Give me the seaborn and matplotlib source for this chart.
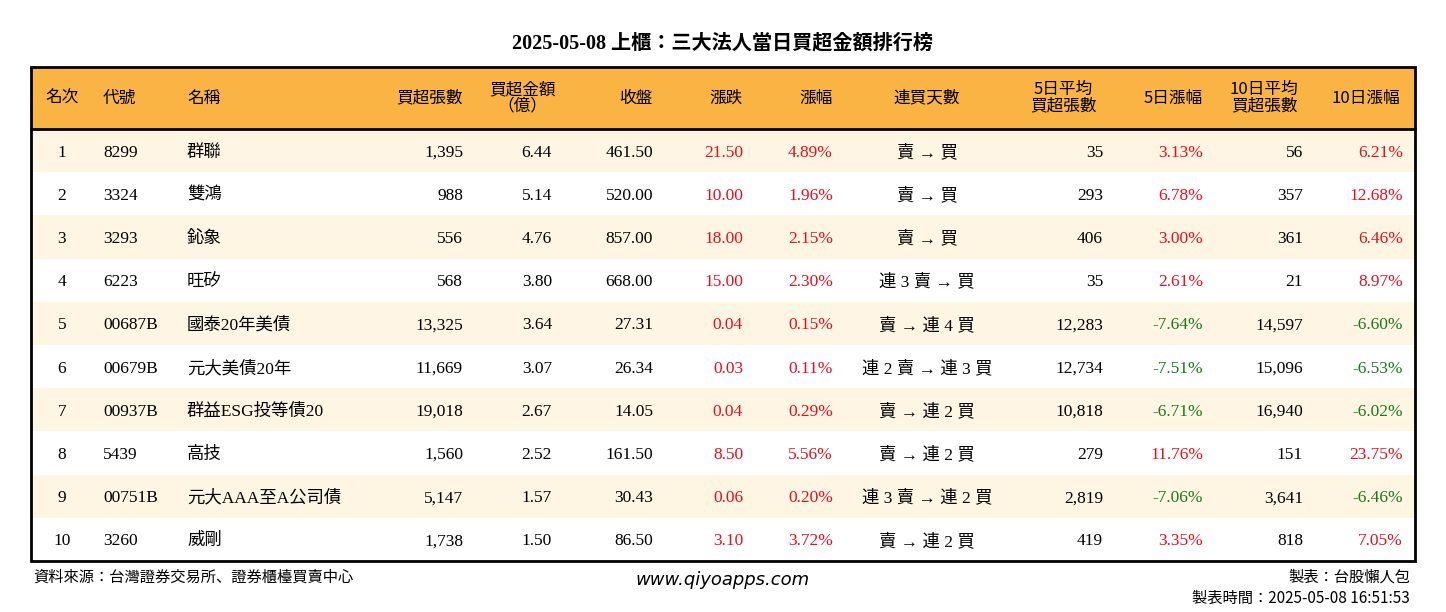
import matplotlib
matplotlib.use("Agg")
import matplotlib.pyplot as plt
import seaborn as sns
from matplotlib.patches import Rectangle
from matplotlib import font_manager

sns.set_theme(style="white")

ranks = [1, 2, 3, 4, 5, 6, 7, 8, 9, 10]
codes = ["8299", "3324", "3293", "6223", "00687B", "00679B", "00937B", "5439", "00751B", "3260"]
names = ["群聯", "雙鴻", "鈊象", "旺矽", "國泰20年美債", "元大美債20年", "群益ESG投等債20", "高技", "元大AAA至A公司債", "威剛"]
buy_vol = [1395, 988, 556, 568, 13325, 11669, 19018, 1560, 5147, 1738]
buy_amt = [6.44, 5.14, 4.76, 3.80, 3.64, 3.07, 2.67, 2.52, 1.57, 1.50]
close = [461.50, 520.00, 857.00, 668.00, 27.31, 26.34, 14.05, 161.50, 30.43, 86.50]
change = [21.50, 10.00, 18.00, 15.00, 0.04, 0.03, 0.04, 8.50, 0.06, 3.10]
pct = [4.89, 1.96, 2.15, 2.30, 0.15, 0.11, 0.29, 5.56, 0.20, 3.72]
streak = ["賣 → 買", "賣 → 買", "賣 → 買", "連 3 賣 → 買", "賣 → 連 4 買", "連 2 賣 → 連 3 買",
          "賣 → 連 2 買", "賣 → 連 2 買", "連 3 賣 → 連 2 買", "賣 → 連 2 買"]
avg5 = [35, 293, 406, 35, 12283, 12734, 10818, 279, 2819, 419]
pct5 = [3.13, 6.78, 3.00, 2.61, -7.64, -7.51, -6.71, 11.76, -7.06, 3.35]
avg10 = [56, 357, 361, 21, 14597, 15096, 16940, 151, 3641, 818]
pct10 = [6.21, 12.68, 6.46, 8.97, -6.60, -6.53, -6.02, 23.75, -6.46, 7.05]
headers = ["名次", "代號", "名稱", "買超張數", "買超金額\n（億）", "收盤", "漲跌", "漲幅", "連買天數",
           "5日平均\n買超張數", "5日漲幅", "10日平均\n買超張數", "10日漲幅"]

avail = {f.name for f in font_manager.fontManager.ttflist}
cjk_list = [n for n in ["Noto Sans CJK TC", "Noto Sans CJK JP", "Noto Sans CJK SC", "Noto Sans CJK KR"] if n in avail]
NUM = ["Liberation Serif"] + cjk_list
CJK = cjk_list + ["DejaVu Sans"]
RED = "#E8101E"
GREEN = "#1B7A1B"
HDR = "#F9B444"
ALT = "#FEF5E3"

fig = plt.figure(figsize=(14.46, 6.12), dpi=100)
ax = fig.add_axes([0, 0, 1, 1])
ax.set_xlim(0, 1446)
ax.set_ylim(612, 0)
ax.axis("off")

L, R, T, B = 31, 1415, 67, 561
HB = 129
rh = (B - HB) / len(ranks)

ax.text(723, 43, "2025-05-08 上櫃：三大法人當日買超金額排行榜", ha="center", va="center",
        fontsize=14.5, fontfamily=["Liberation Serif"] + cjk_list, fontweight="bold", color="black")
ax.add_patch(Rectangle((L, T), R - L, HB - T, facecolor=HDR, edgecolor="none"))
for i in range(len(ranks)):
    if i % 2 == 0:
        ax.add_patch(Rectangle((L, HB + i * rh), R - L, rh, facecolor=ALT, edgecolor="none"))
ax.add_patch(Rectangle((L, T), R - L, B - T, facecolor="none", edgecolor="black", lw=2))
ax.plot([L, R], [HB, HB], color="black", lw=2)

hdr_pos = [(62, "center"), (103, "left"), (187, "left"), (463, "right"), (522, "center"),
           (653, "right"), (743, "right"), (833, "right"), (927, "center"), (1063, "center"),
           (1203, "right"), (1264, "center"), (1366, "center")]
for (x, a), h in zip(hdr_pos, headers):
    ax.text(x, (T + HB) / 2, h, ha=a, va="center", fontsize=12, fontfamily=CJK,
            linespacing=0.95, color="black", multialignment="center")

def col(v):
    return RED if v > 0 else GREEN

for i in range(len(ranks)):
    y = HB + (i + 0.5) * rh
    kw = dict(va="center_baseline", fontsize=12.5, fontfamily=NUM)
    ax.text(62, y, str(ranks[i]), ha="center", color="black", **kw)
    ax.text(103, y, codes[i], ha="left", color="black", **kw)
    ax.text(187, y, names[i], ha="left", color="black", **kw)
    ax.text(463, y, f"{buy_vol[i]:,}", ha="right", color="black", **kw)
    ax.text(552, y, f"{buy_amt[i]:.2f}", ha="right", color="black", **kw)
    ax.text(653, y, f"{close[i]:.2f}", ha="right", color="black", **kw)
    ax.text(743, y, f"{change[i]:.2f}", ha="right", color=col(change[i]), **kw)
    ax.text(833, y, f"{pct[i]:.2f}%", ha="right", color=col(pct[i]), **kw)
    ax.text(927, y, streak[i], ha="center", color="black", **kw)
    ax.text(1103, y, f"{avg5[i]:,}", ha="right", color="black", **kw)
    ax.text(1203, y, f"{pct5[i]:.2f}%", ha="right", color=col(pct5[i]), **kw)
    ax.text(1303, y, f"{avg10[i]:,}", ha="right", color="black", **kw)
    ax.text(1403, y, f"{pct10[i]:.2f}%", ha="right", color=col(pct10[i]), **kw)

ax.text(33, 577, "資料來源：台灣證券交易所、證券櫃檯買賣中心", ha="left", va="center", fontsize=11,
        fontfamily=CJK, color="black")
ax.text(723, 580, "www.qiyoapps.com", ha="center", va="center", fontsize=13, fontstyle="italic",
        fontfamily="DejaVu Sans", color="black")
ax.text(1410, 577, "製表：台股懶人包", ha="right", va="center", fontsize=11, fontfamily=CJK, color="black")
ax.text(1410, 598, "製表時間：2025-05-08 16:51:53", ha="right", va="center", fontsize=11,
        fontfamily=CJK, color="black")

fig.savefig("out.png", dpi=100)
